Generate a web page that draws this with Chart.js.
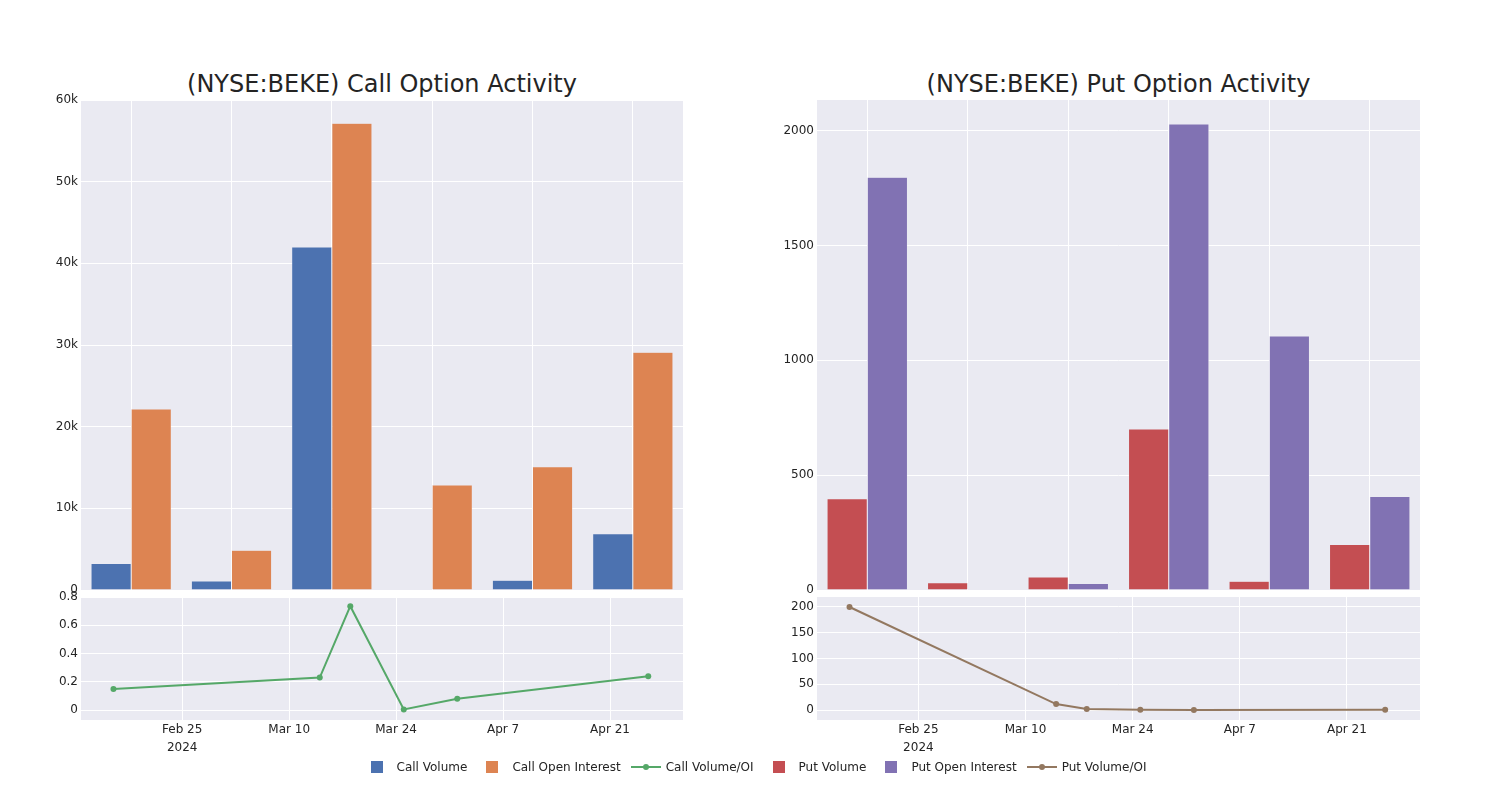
<!DOCTYPE html>
<html>
<head>
<meta charset="utf-8">
<script src="https://cdn.jsdelivr.net/npm/chart.js@4.4.1/dist/chart.umd.min.js"></script>
<style>
  body { margin: 0; background: #fff; font-family: 'DejaVu Sans', sans-serif; color: #242424; }
  #page { position: relative; width: 1500px; height: 800px; overflow: hidden; }
  canvas { position: absolute; }
  .title { position: absolute; top: 69px; height: 30px; line-height: 30px; font-size: 24px; text-align: center; white-space: nowrap; }
  #legend { position: absolute; left: 4px; top: 759px; width: 1500px; height: 16px; display: flex; justify-content: center; font-size: 12px; line-height: 16px; }
  .item { display: flex; align-items: center; margin-right: 5px; }
  .sym { position: relative; width: 40px; height: 16px; }
  .sym span { position: absolute; }
</style>
</head>
<body>
<div id="page">
  <div class="title" style="left:81px;width:602px">(NYSE:BEKE) Call Option Activity</div>
  <div class="title" style="left:817px;width:603px">(NYSE:BEKE) Put Option Activity</div>
  <canvas id="callBars"></canvas>
  <canvas id="callRatio"></canvas>
  <canvas id="putBars"></canvas>
  <canvas id="putRatio"></canvas>
  <div id="legend"></div>
</div>
<script>
// data
const dates = ['2024-02-16', '2024-03-14', '2024-03-18', '2024-03-25', '2024-04-01', '2024-04-26'];
const callVolume = [3250, 1100, 42000, 60, 1200, 6900];
const callOpenInterest = [22150, 4870, 57150, 12870, 15080, 29100];
const callVolOI = [0.15, 0.23, 0.735, 0.005, 0.08, 0.24];
const putVolume = [397, 32, 57, 701, 38, 198];
const putOpenInterest = [1797, 3, 28, 2028, 1106, 407];
const putVolOI = [200, 11.5, 2, 0.35, 0.04, 0.49];

const callTicks = [0, 10000, 20000, 30000, 40000, 50000, 60000];
const putTicks = [0, 500, 1000, 1500, 2000];
const callRatioTicks = [0, 0.2, 0.4, 0.6, 0.8];
const putRatioTicks = [0, 50, 100, 150, 200];
const dateTicks = ['2024-02-25', '2024-03-10', '2024-03-24', '2024-04-07', '2024-04-21'];
const dateTickLabels = [['Feb 25', '2024'], 'Mar 10', 'Mar 24', 'Apr 7', 'Apr 21'];

Chart.defaults.font.family = "'DejaVu Sans', sans-serif";
Chart.defaults.font.size = 12;
Chart.defaults.color = '#242424';

const PAD_L = 60, PAD_R = 5, PAD_T = 12;

function dayNum(s) {
  return (Date.parse(s + 'T00:00:00Z') - Date.parse('2024-01-01T00:00:00Z')) / 864e5 + 1;
}

const bgPlugin = {
  id: 'bg',
  beforeDraw(c) {
    const a = c.chartArea;
    c.ctx.save();
    c.ctx.fillStyle = '#EAEAF2';
    c.ctx.fillRect(a.left, a.top, a.width, a.height);
    c.ctx.restore();
  }
};

function place(id, x, y, w, h, pb) {
  const c = document.getElementById(id);
  c.width = w + PAD_L + PAD_R;
  c.height = h + PAD_T + pb;
  c.style.left = (x - PAD_L) + 'px';
  c.style.top = (y - PAD_T) + 'px';
  return c;
}

function yAxis(ticks, min, max, fmt) {
  return {
    min: min, max: max,
    afterBuildTicks: s => { s.ticks = ticks.map(v => ({ value: v })); },
    afterFit: s => { s.width = PAD_L; },
    grid: { color: '#ffffff', lineWidth: 1, drawTicks: false },
    border: { display: false },
    ticks: { padding: 3, callback: fmt }
  };
}

function barOptions(ticks, max, fmt) {
  return {
    responsive: false,
    animation: false,
    layout: { padding: { top: PAD_T, right: PAD_R, bottom: 12, left: 0 } },
    plugins: { legend: { display: false } },
    scales: {
      x: {
        type: 'category',
        grid: { color: '#ffffff', offset: false, drawTicks: false },
        border: { display: false },
        ticks: { display: false }
      },
      y: yAxis(ticks, 0, max, fmt)
    }
  };
}

function lineOptions(ticks, min, max) {
  return {
    responsive: false,
    animation: false,
    layout: { padding: { top: PAD_T, right: PAD_R, bottom: 0, left: 0 } },
    plugins: { legend: { display: false } },
    scales: {
      x: {
        type: 'linear',
        min: 42.75, max: 121.55,
        afterBuildTicks: s => { s.ticks = dateTicks.map(d => ({ value: dayNum(d) })); },
        afterFit: s => { s.height = 40; },
        grid: { color: '#ffffff', drawTicks: false },
        border: { display: false },
        ticks: { padding: 1, autoSkip: false, maxRotation: 0, font: { size: 12, lineHeight: 1.5 },
                 callback: (v, i) => dateTickLabels[i] }
      },
      y: yAxis(ticks, min, max, v => String(+v.toFixed(2)))
    }
  };
}

function barSet(label, data, color) {
  return { label: label, data: data, backgroundColor: color, borderColor: '#EAEAF2', borderWidth: 0.5,
           barPercentage: 1, categoryPercentage: 0.8 };
}

function lineSet(label, values, color) {
  return { label: label, data: dates.map((d, i) => ({ x: dayNum(d), y: values[i] })),
           borderColor: color, backgroundColor: color, pointBackgroundColor: color,
           borderWidth: 2, pointRadius: 3, pointBorderWidth: 0, tension: 0 };
}

const charts = [];

charts.push(new Chart(place('callBars', 81, 100, 602, 490, 12), {
  type: 'bar',
  data: { labels: dates, datasets: [
    barSet('Call Volume', callVolume, '#4C72B0'),
    barSet('Call Open Interest', callOpenInterest, '#DD8452')
  ] },
  options: barOptions(callTicks, 60000, v => v === 0 ? '0' : (v / 1000) + 'k'),
  plugins: [bgPlugin]
}));

charts.push(new Chart(place('callRatio', 81, 597, 602, 123, 40), {
  type: 'line',
  data: { datasets: [lineSet('Call Volume/OI', callVolOI, '#55A868')] },
  options: lineOptions(callRatioTicks, -0.07, 0.8),
  plugins: [bgPlugin]
}));

charts.push(new Chart(place('putBars', 817, 100, 603, 490, 12), {
  type: 'bar',
  data: { labels: dates, datasets: [
    barSet('Put Volume', putVolume, '#C44E52'),
    barSet('Put Open Interest', putOpenInterest, '#8172B3')
  ] },
  options: barOptions(putTicks, 2133, v => String(v)),
  plugins: [bgPlugin]
}));

charts.push(new Chart(place('putRatio', 817, 597, 603, 123, 40), {
  type: 'line',
  data: { datasets: [lineSet('Put Volume/OI', putVolOI, '#937860')] },
  options: lineOptions(putRatioTicks, -19.4, 219.4),
  plugins: [bgPlugin]
}));

// shared legend under both columns
const legend = document.getElementById('legend');
charts.forEach(ch => {
  ch.data.datasets.forEach(ds => {
    const item = document.createElement('div');
    item.className = 'item';
    const sym = document.createElement('div');
    sym.className = 'sym';
    if (ch.config.type === 'bar') {
      sym.innerHTML = '<span style="left:14px;top:2px;width:12px;height:12px;background:' + ds.backgroundColor + '"></span>';
    } else {
      sym.innerHTML = '<span style="left:5px;top:7px;width:30px;height:2px;background:' + ds.borderColor + '"></span>' +
                      '<span style="left:17px;top:5px;width:6px;height:6px;border-radius:3px;background:' + ds.borderColor + '"></span>';
    }
    const txt = document.createElement('span');
    txt.textContent = ds.label;
    item.appendChild(sym);
    item.appendChild(txt);
    legend.appendChild(item);
  });
});
</script>
</body>
</html>
